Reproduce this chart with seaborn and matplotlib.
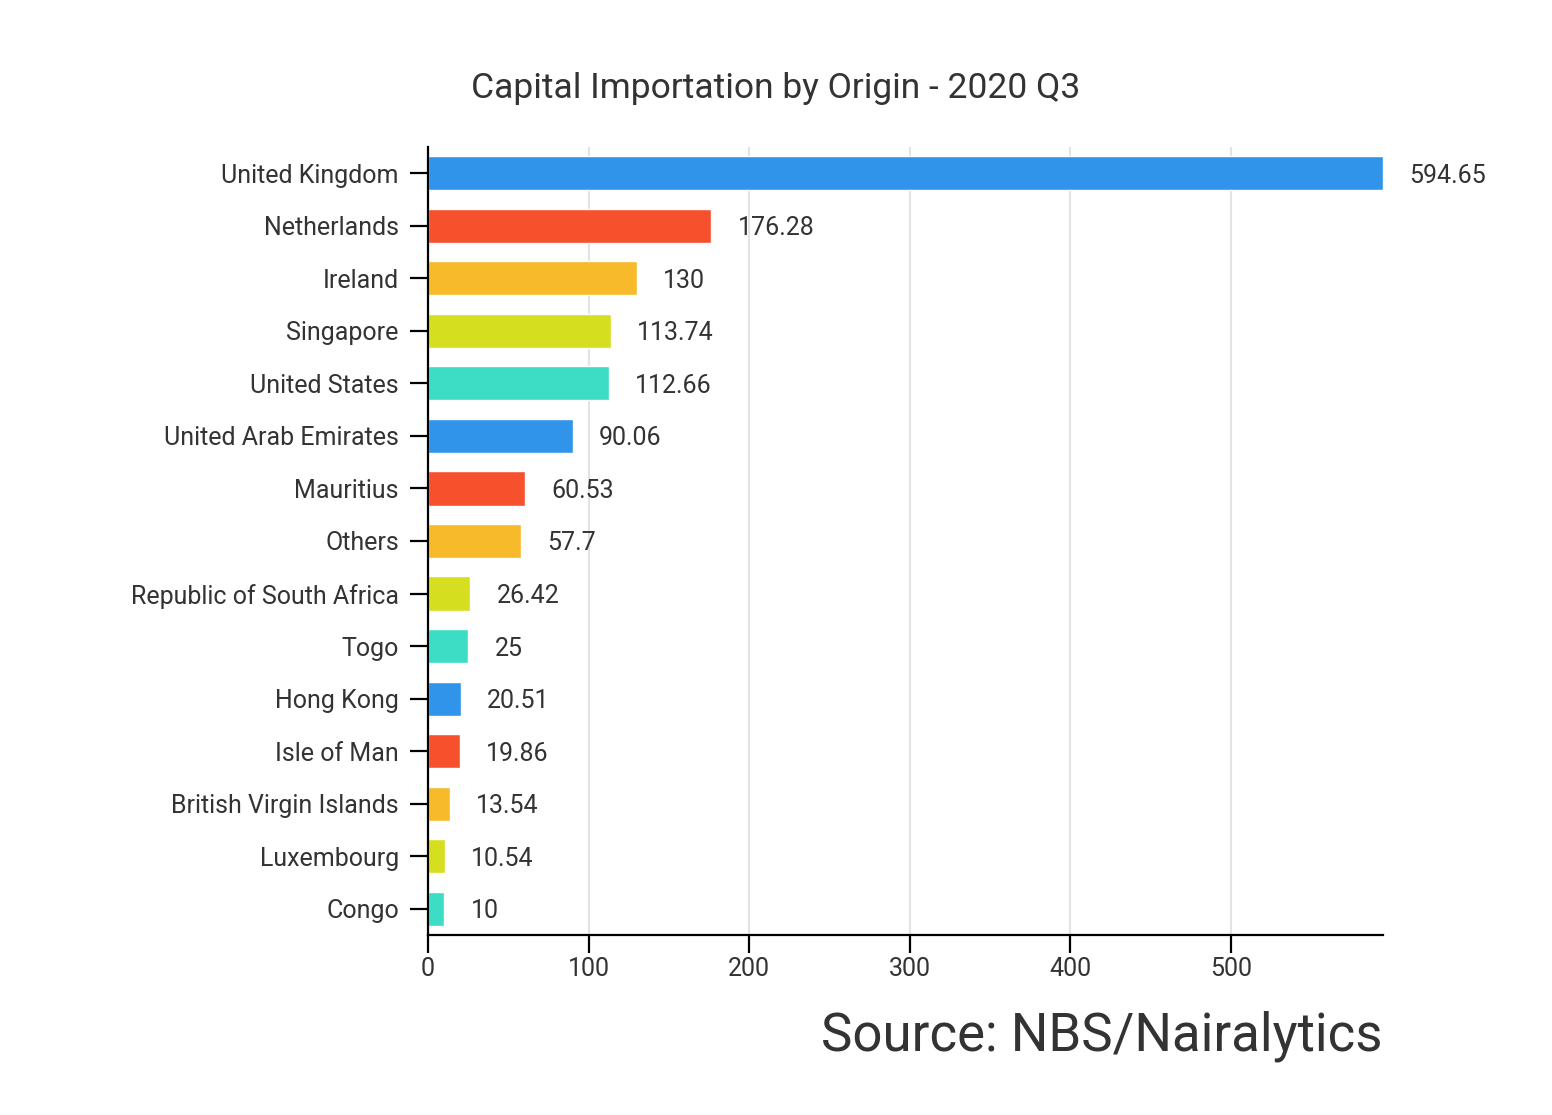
import matplotlib
matplotlib.use("Agg")
import matplotlib.pyplot as plt
import seaborn as sns
import pandas as pd

countries = ["United Kingdom", "Netherlands", "Ireland", "Singapore", "United States",
             "United Arab Emirates", "Mauritius", "Others", "Republic of South Africa",
             "Togo", "Hong Kong", "Isle of Man", "British Virgin Islands", "Luxembourg", "Congo"]
values = [594.65, 176.28, 130, 113.74, 112.66, 90.06, 60.53, 57.7, 26.42, 25, 20.51, 19.86,
          13.54, 10.54, 10]
value_labels = ["594.65", "176.28", "130", "113.74", "112.66", "90.06", "60.53", "57.7",
                "26.42", "25", "20.51", "19.86", "13.54", "10.54", "10"]
base_colors = ["#3095EA", "#F6502D", "#F6BA2A", "#D6DF1F", "#3DDCC4"]
colors = [base_colors[i % 5] for i in range(len(countries))]
title = "Capital Importation by Origin - 2020 Q3"
source = "Source: NBS/Nairalytics"
xticks = [0, 100, 200, 300, 400, 500]

df = pd.DataFrame({"country": countries, "value": values})

sns.set_style("white")
plt.rcParams['font.family'] = ['Roboto', 'DejaVu Sans']
txt = "#333333"

fig = plt.figure(figsize=(15.52, 11.15), dpi=100)
ax = fig.add_axes([0.2758, 0.1614, 0.891 - 0.2758, 0.8682 - 0.1614])
sns.barplot(data=df, y="country", x="value", hue="country", palette=colors,
            orient="h", width=0.65, legend=False, ax=ax, saturation=1)

for cont, lab in zip(ax.containers, value_labels):
    anns = ax.bar_label(cont, labels=[lab], padding=19, fontsize=18, color=txt)
    for a in anns:
        a.set_va("center_baseline")

ax.set_xlim(0, 594.65)
ax.set_ylim(len(countries) - 0.5, -0.5)
ax.set_xticks(xticks)
ax.set_xticklabels([str(t) for t in xticks])
ax.set_xlabel("")
ax.set_ylabel("")
ax.grid(axis="x", color="#e3e3e3", linewidth=1.5)
ax.set_axisbelow(True)
for s in ["top", "right"]:
    ax.spines[s].set_visible(False)
for s in ["left", "bottom"]:
    ax.spines[s].set_color("black")
    ax.spines[s].set_linewidth(1.6)
ax.tick_params(axis="both", length=13, width=1.6, color="black", labelsize=18,
               labelcolor=txt, direction="out", bottom=True, left=True)
ax.tick_params(axis="y", pad=8)
ax.tick_params(axis="x", pad=3)

fig.text(0.5, 0.921, title, ha="center", va="center", fontsize=25.5, color=txt)
fig.text(0.891, 0.071, source, ha="right", va="center", fontsize=38, color=txt)

fig.savefig("out.png", dpi=100, facecolor="white")
